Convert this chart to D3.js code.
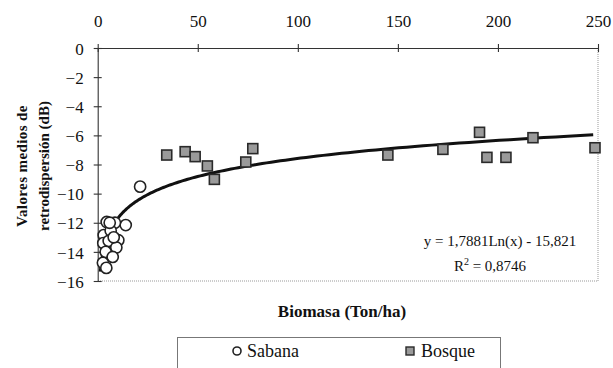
<!DOCTYPE html>
<html>
<head>
<meta charset="utf-8">
<script src="https://cdn.jsdelivr.net/npm/d3@7"></script>
<style>
  body { margin: 0; background: #fff; }
  svg text { font-family: "Liberation Serif", "Times New Roman", serif; fill: #111; }
  .axis path, .axis line { stroke: #333; stroke-width: 1.1px; }
  .axis text { font-size: 17px; }
</style>
</head>
<body>
<script>
// Sabana (circles): biomasa, retrodispersion
var sabanaX = [21.2, 14.0, 4.5, 8.6, 3.0, 6.5, 10.3, 2.8, 5.5, 9.3, 4.0, 7.5, 2.6, 4.3, 8.0, 6.0];
var sabanaY = [-9.52, -12.16, -11.95, -12.0, -12.85, -12.55, -13.2, -13.4, -13.25, -13.7, -14.0, -14.35, -14.75, -15.1, -13.0, -12.0];

// Bosque (squares)
var bosqueX = [34.5, 43.7, 48.7, 54.8, 58.3, 74.0, 77.5, 145.0, 172.5, 190.8, 194.5, 204.0, 217.5, 248.5];
var bosqueY = [-7.35, -7.12, -7.46, -8.1, -9.02, -7.83, -6.91, -7.35, -6.96, -5.79, -7.51, -7.51, -6.16, -6.85];

// logarithmic trend line y = a ln(x) + b, as printed on the chart
var trendCoef = [1.7881, -15.821];
var trendRange = [1.3, 247.6];

var xTicks = [0, 50, 100, 150, 200, 250];
var yTicks = [0, -2, -4, -6, -8, -10, -12, -14, -16];
var legendLabels = ["Sabana", "Bosque"];

var width = 613, height = 368;
var margin = {left: 97.7, top: 48, right: 15, bottom: 87};

var svg = d3.select("body").append("svg")
    .attr("width", width)
    .attr("height", height);

var x = d3.scaleLinear().domain([0, 250]).range([margin.left, width - margin.right]);
var y = d3.scaleLinear().domain([0, -16]).range([margin.top, height - margin.bottom]);

//dotted frame on right and bottom
svg.append("path")
    .attr("d", "M" + x(250) + "," + y(0) + "V" + y(-16) + "H" + x(0))
    .attr("fill", "none")
    .attr("stroke", "#999")
    .attr("stroke-width", 1)
    .attr("stroke-dasharray", "1,1");

//top axis
var xAxis = svg.append("g")
    .attr("class", "axis")
    .attr("transform", "translate(0," + y(0) + ")")
    .call(d3.axisTop(x).tickValues(xTicks).tickSizeOuter(0).tickPadding(15));
xAxis.selectAll(".tick line").attr("y1", 4).attr("y2", -4);

//left axis
var yAxis = svg.append("g")
    .attr("class", "axis")
    .attr("transform", "translate(" + x(0) + ",0)")
    .call(d3.axisLeft(y).tickValues(yTicks).tickSizeOuter(0).tickPadding(8));
yAxis.selectAll(".tick line").attr("x1", 4).attr("x2", -4);
yAxis.selectAll(".tick text").attr("dy", "0.36em");

//trend line
var trendData = d3.range(0, 201).map(function(i){
    var t = i / 200;
    var xv = Math.exp(Math.log(trendRange[0]) + t * (Math.log(trendRange[1]) - Math.log(trendRange[0])));
    return [xv, trendCoef[0] * Math.log(xv) + trendCoef[1]];
});

svg.append("path")
    .datum(trendData)
    .attr("fill", "none")
    .attr("stroke", "#111")
    .attr("stroke-width", 3)
    .attr("d", d3.line().x(function(d){ return x(d[0]); }).y(function(d){ return y(d[1]); }));

//bosque squares
var sq = 10;
svg.selectAll(".bosque")
    .data(d3.zip(bosqueX, bosqueY))
    .enter()
    .append("rect")
    .attr("class", "bosque")
    .attr("x", function(d){ return x(d[0]) - sq / 2; })
    .attr("y", function(d){ return y(d[1]) - sq / 2; })
    .attr("width", sq)
    .attr("height", sq)
    .attr("fill", "#9a9a9a")
    .attr("stroke", "#2a2a2a")
    .attr("stroke-width", 1.6);

//sabana circles
svg.selectAll(".sabana")
    .data(d3.zip(sabanaX, sabanaY))
    .enter()
    .append("circle")
    .attr("class", "sabana")
    .attr("cx", function(d){ return x(d[0]); })
    .attr("cy", function(d){ return y(d[1]); })
    .attr("r", 5.6)
    .attr("fill", "#fff")
    .attr("stroke", "#222")
    .attr("stroke-width", 1.6);

//equation
svg.append("text")
    .attr("x", 500).attr("y", 246)
    .attr("text-anchor", "middle")
    .style("font-size", "15px")
    .text("y = 1,7881Ln(x) - 15,821");

var r2 = svg.append("text")
    .attr("x", 490).attr("y", 271)
    .attr("text-anchor", "middle")
    .style("font-size", "15px");
r2.append("tspan").text("R");
r2.append("tspan").attr("dy", -6).style("font-size", "10px").text("2");
r2.append("tspan").attr("dy", 6).text(" = 0,8746");

//axis titles
svg.append("text")
    .attr("x", 342).attr("y", 317)
    .attr("text-anchor", "middle")
    .style("font-size", "17px")
    .style("font-weight", "bold")
    .text("Biomasa (Ton/ha)");

var yTitle = svg.append("text")
    .attr("transform", "translate(27,166) rotate(-90)")
    .attr("text-anchor", "middle")
    .style("font-size", "15px")
    .style("font-weight", "bold");
yTitle.append("tspan").attr("x", 0).attr("dy", 0).style("letter-spacing", "0.4px").text("Valores medios de");
yTitle.append("tspan").attr("x", 0).attr("dy", 22).text("retrodispersión (dB)");

//legend
var legend = svg.append("g");
legend.append("rect")
    .attr("x", 177.5).attr("y", 337.5)
    .attr("width", 323).attr("height", 40)
    .attr("fill", "#fff")
    .attr("stroke", "#777")
    .attr("stroke-width", 1);

legend.append("circle")
    .attr("cx", 237).attr("cy", 351)
    .attr("r", 4)
    .attr("fill", "#fff")
    .attr("stroke", "#222")
    .attr("stroke-width", 1.6);
legend.append("text")
    .attr("x", 247).attr("y", 357)
    .style("font-size", "18px")
    .text(legendLabels[0]);

legend.append("rect")
    .attr("x", 406).attr("y", 347)
    .attr("width", 8).attr("height", 8)
    .attr("fill", "#9a9a9a")
    .attr("stroke", "#2a2a2a")
    .attr("stroke-width", 1.4);
legend.append("text")
    .attr("x", 421).attr("y", 357)
    .style("font-size", "18px")
    .text(legendLabels[1]);
</script>
</body>
</html>
